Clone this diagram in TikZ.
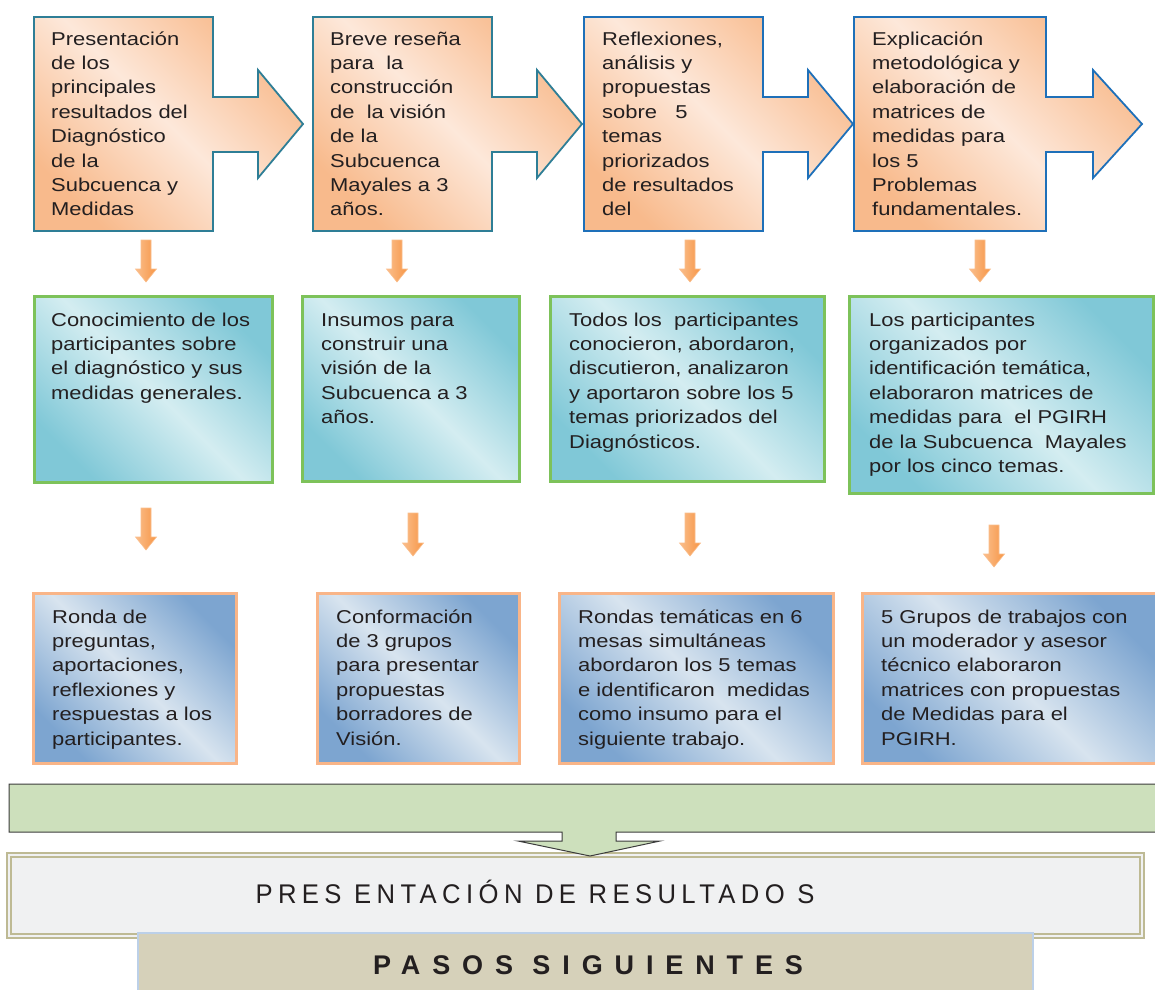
\documentclass[tikz,border=0pt]{standalone}
\usepackage{fontspec}
\setmainfont{Liberation Sans}
\newfontfamily\bodyf[FakeStretch=1.18]{Liberation Sans}
\newfontfamily\capf[LetterSpace=20,FakeStretch=0.95]{Liberation Sans}
\newfontfamily\pasosf[LetterSpace=44]{Liberation Sans}
\definecolor{txt}{RGB}{35,31,32}
\definecolor{peachD}{RGB}{248,186,140}
\definecolor{peachL}{RGB}{253,232,218}
\definecolor{tealB}{RGB}{46,126,150}
\definecolor{blueB}{RGB}{30,112,185}
\definecolor{tealD}{RGB}{128,200,215}
\definecolor{tealL}{RGB}{212,237,241}
\definecolor{greenB}{RGB}{125,194,90}
\definecolor{blueD}{RGB}{125,165,208}
\definecolor{blueL}{RGB}{216,228,239}
\definecolor{orangeB}{RGB}{249,181,136}
\definecolor{arrowO}{RGB}{247,150,70}
\definecolor{arrowL}{RGB}{250,190,140}
\definecolor{barG}{RGB}{205,224,188}
\definecolor{barB}{RGB}{60,60,60}
\definecolor{khaki}{RGB}{190,186,148}
\definecolor{presF}{RGB}{240,241,242}
\definecolor{pasosF}{RGB}{214,209,186}
\definecolor{pasosB}{RGB}{188,208,232}
\begin{document}
\begin{tikzpicture}[x=1pt,y=-1pt,
  btxt/.style={anchor=north west, inner sep=0pt, align=left, text=txt,
    font={\bodyf\fontsize{18.6}{24.4}\selectfont}},
  peach/.style={top color=peachD, bottom color=peachD, middle color=peachL, shading angle=-45, line width=1.8pt},
  teal/.style={top color=tealD, bottom color=tealD, middle color=tealL, shading angle=-45, draw=greenB, line width=3pt},
  bluebox/.style={top color=blueD, bottom color=blueD, middle color=blueL, shading angle=-45, draw=orangeB, line width=3pt},
  darrow/.style={left color=arrowL, right color=arrowO, draw=arrowL, line width=0.6pt}
]
\useasboundingbox (0,0) rectangle (1155,989);

% ---------- top callout boxes ----------
\foreach \xa/\xb/\xc/\xd/\col in {34/213/258/303/tealB, 313/492/537/582/tealB, 584/763/808/853/blueB, 854/1046/1093/1142/blueB}{
  \draw[peach, draw=\col] (\xa,17) -- (\xb,17) -- (\xb,97) -- (\xc,97) -- (\xc,70) -- (\xd,124)
    -- (\xc,178) -- (\xc,152) -- (\xb,152) -- (\xb,231) -- (\xa,231) -- cycle;
}
\node[btxt] (t1) at (51,27.9) {\strut Presentación\\de los\\principales\\resultados del\\Diagnóstico\\de la\\Subcuenca y\\Medidas};
\node[btxt] (t2) at (330,27.9) {\strut Breve reseña\\para\ \ la\\construcción\\de\ \ la visión\\de la\\Subcuenca\\Mayales a 3\\años.};
\node[btxt] (t3) at (602,27.9) {\strut Reflexiones,\\análisis y\\propuestas\\sobre\ \ \ 5\\temas\\priorizados\\de resultados\\del};
\node[btxt] (t4) at (872,27.9) {\strut Explicación\\metodológica y\\elaboración de\\matrices de\\medidas para\\los 5\\Problemas\\fundamentales.};

% ---------- down arrows ----------
\foreach \x/\ya/\yb in {146/240/282, 397/240/282, 690/240/282, 980/240/282,
                        146/508/550, 413/513/556, 690/513/556, 994/525/567}{
  \draw[darrow] (\x-5,\ya) -- (\x+5,\ya) -- (\x+5,\yb-13) -- (\x+10.5,\yb-13) -- (\x,\yb)
    -- (\x-10.5,\yb-13) -- (\x-5,\yb-13) -- cycle;
}

% ---------- middle boxes ----------
\draw[teal] (34,296) rectangle (272,482);
\draw[teal] (302,296) rectangle (519,481);
\draw[teal] (550,296) rectangle (824,481);
\draw[teal] (849,296) rectangle (1153,493);
\node[btxt] (m1) at (51,308.9) {\strut Conocimiento de los\\participantes sobre\\el diagnóstico y sus\\medidas generales.};
\node[btxt] (m2) at (321,308.9) {\strut Insumos para\\construir una\\visión de la\\Subcuenca a 3\\años.};
\node[btxt] (m3) at (569,308.9) {\strut Todos los\ \ participantes\\conocieron, abordaron,\\discutieron, analizaron\\y aportaron sobre los 5\\temas priorizados del\\Diagnósticos.};
\node[btxt] (m4) at (869,308.9) {\strut Los participantes\\organizados por\\identificación temática,\\elaboraron matrices de\\medidas para\ \ el PGIRH\\de la Subcuenca\ \ Mayales\\por los cinco temas.};

% ---------- bottom boxes ----------
\draw[bluebox] (33,593) rectangle (236,763);
\draw[bluebox] (317,593) rectangle (519,763);
\draw[bluebox] (559,593) rectangle (833,763);
\draw[bluebox] (862,593) rectangle (1158,763);
\node[btxt] (b1) at (52,605.9) {\strut Ronda de\\preguntas,\\aportaciones,\\reflexiones y\\respuestas a los\\participantes.};
\node[btxt] (b2) at (336,605.9) {\strut Conformación\\de 3 grupos\\para presentar\\propuestas\\borradores de\\Visión.};
\node[btxt] (b3) at (578,605.9) {\strut Rondas temáticas en 6\\mesas simultáneas\\abordaron los 5 temas\\e identificaron\ \ medidas\\como insumo para el\\siguiente trabajo.};
\node[btxt] (b4) at (881,605.9) {\strut 5 Grupos de trabajos con\\un moderador y asesor\\técnico elaboraron\\matrices con propuestas\\de Medidas para el\\PGIRH.};

% ---------- presentación box ----------
\draw[fill=presF, draw=khaki, line width=1.2pt] (7,853) rectangle (1144,938);
\draw[draw=khaki, line width=1.2pt] (11,857) rectangle (1140,934);
\node[anchor=base, inner sep=0pt, text=txt, font={\capf\fontsize{27}{30}\selectfont}] (pres) at (535,903) {PRES ENTACIÓN DE RESULTADO S};

% ---------- green bar with arrow ----------
\draw[fill=barG, draw=barB, line width=1pt] (9,784) -- (1160,784) -- (1160,832) -- (616,832) -- (616,841)
  -- (660,841) -- (590,856) -- (518,841) -- (562,841) -- (562,832) -- (9,832) -- cycle;

% ---------- pasos siguientes ----------
\draw[fill=pasosF, draw=pasosB, line width=1.5pt] (138,933) rectangle (1033,995);
\node[anchor=base, inner sep=0pt, text=txt, font={\pasosf\bfseries\fontsize{27}{30}\selectfont}] (pasos) at (588,974) {PASOS SIGUIENTES};
\end{tikzpicture}
\end{document}
